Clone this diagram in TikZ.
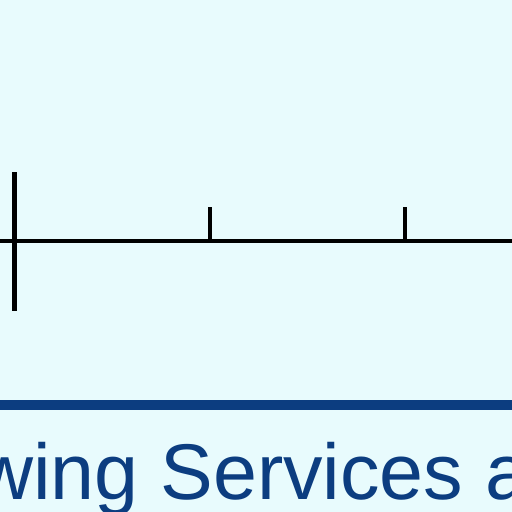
\documentclass[tikz,border=0pt]{standalone}
\usepackage{fontspec}
\setmainfont{Liberation Sans}
\usetikzlibrary{positioning}
\definecolor{paleCyan}{HTML}{E8FBFD}
\definecolor{ruleBlue}{HTML}{0C3D80}
\tikzset{axisline/.style={line width=3.5pt, black}}
\tikzset{tickline/.style={line width=4pt, black}}
\begin{document}
\begin{tikzpicture}[x=1pt, y=-1pt]
    \useasboundingbox (0,0) rectangle (512,512);
    \clip (0,0) rectangle (512,512);
    \fill[paleCyan] (0,0) rectangle (512,512);

    % axis with ticks
    \coordinate (axisL) at (0,241);
    \coordinate (axisR) at (512,241);
    \draw[axisline] (axisL) -- (axisR);
    \draw[line width=5pt] (14,172) -- (14,311);
    \draw[tickline] (210,207) -- (210,241);
    \draw[tickline] (405,207) -- (405,241);

    % banner rule and caption
    \draw[ruleBlue, line width=10pt] (0,405) -- (512,405);
    \node[anchor=base west, inner sep=0pt, text=ruleBlue,
          font=\fontsize{79}{90}\selectfont] (caption) at (-24,499) {wing Services a};
  \end{tikzpicture}
\end{document}
